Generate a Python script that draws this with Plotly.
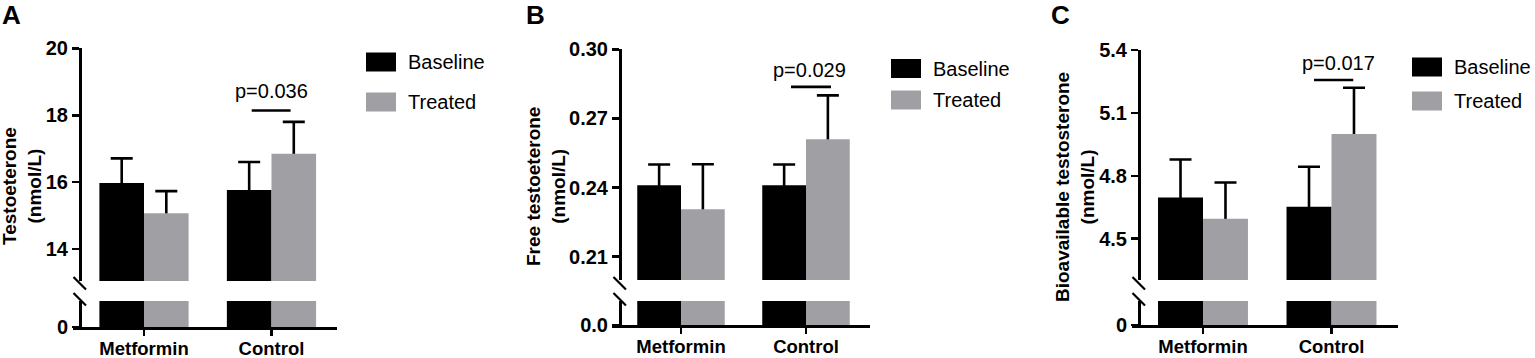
import plotly.graph_objects as go

W, H = 1535, 358

# ---------------- data ----------------
categories = ["Metformin", "Control"]
series_names = ["Baseline", "Treated"]

A_baseline = [15.97, 15.76]
A_baseline_sd = [0.74, 0.84]
A_treated = [15.07, 16.85]
A_treated_sd = [0.66, 0.95]

B_baseline = [0.241, 0.241]
B_baseline_sd = [0.009, 0.009]
B_treated = [0.2306, 0.261]
B_treated_sd = [0.0195, 0.019]

C_baseline = [4.697, 4.652]
C_baseline_sd = [0.181, 0.191]
C_treated = [4.595, 4.999]
C_treated_sd = [0.173, 0.221]

A_ticks = [14, 16, 18, 20]
B_ticks = [0.21, 0.24, 0.27, 0.30]
C_ticks = [4.5, 4.8, 5.1, 5.4]
A_ticktext = ["14", "16", "18", "20"]
B_ticktext = ["0.21", "0.24", "0.27", "0.30"]
C_ticktext = ["4.5", "4.8", "5.1", "5.4"]
zero_labels = ["0", "0.0", "0"]

p_texts = ["p=0.036", "p=0.029", "p=0.017"]
p_line_values = [18.14, 0.2837, 5.257]
p_text_values = [18.71, 0.291, 5.34]

y_titles = ["Testoeterone<br>(nmol/L)",
            "Free testoeterone<br>(nmol/L)",
            "Bioavailable testosterone<br>(nmol/L)"]
panel_letters = ["A", "B", "C"]

# ---------------- styling / layout geometry ----------------
FONT = "Liberation Sans, Arial, Helvetica, sans-serif"
BLACK = "#000000"
GREY = "#a0a0a4"
LW = 2.6


def fx(px):
    return px / W


def fy(px):
    return 1 - px / H


panels = [
    dict(x="x", ylow="y", yup="y2", xdom=(73, 337), xrange=(-0.557, 1.514), axis_x=80,
         up_dom=(48.3, 281), up_range=(13.043, 20.0), low_dom=(301, 327), low_range=(0, 1),
         base=A_baseline, base_sd=A_baseline_sd, trt=A_treated, trt_sd=A_treated_sd,
         ticks=A_ticks, ticktext=A_ticktext, pline=(-0.155, 0.15), ptext_dx=0.0,
         title_x=22, title_y=186, letter_x=0, legend_x=366, legend_y=(62, 102)),
    dict(x="x2", ylow="y3", yup="y4", xdom=(612, 870), xrange=(-0.552, 1.512), axis_x=620,
         up_dom=(49.3, 280), up_range=(0.19989, 0.30), low_dom=(301, 325), low_range=(0, 0.01),
         base=B_baseline, base_sd=B_baseline_sd, trt=B_treated, trt_sd=B_treated_sd,
         ticks=B_ticks, ticktext=B_ticktext, pline=(-0.12, 0.2), ptext_dx=0.027,
         title_x=546, title_y=187, letter_x=524, legend_x=891, legend_y=(68.5, 100)),
    dict(x="x3", ylow="y5", yup="y6", xdom=(1132, 1398), xrange=(-0.5525, 1.5175), axis_x=1139,
         up_dom=(50, 280), up_range=(4.303, 5.4), low_dom=(301, 325), low_range=(0, 1),
         base=C_baseline, base_sd=C_baseline_sd, trt=C_treated, trt_sd=C_treated_sd,
         ticks=C_ticks, ticktext=C_ticktext, pline=(-0.136, 0.169), ptext_dx=0.057,
         title_x=1075, title_y=187, letter_x=1049, legend_x=1412, legend_y=(67, 101)),
]

BAR_W = 0.35
fig = go.Figure()
layout = dict(
    width=W, height=H,
    margin=dict(l=0, r=0, t=0, b=0, autoexpand=False),
    paper_bgcolor="white", plot_bgcolor="rgba(0,0,0,0)",
    barmode="overlay", showlegend=False,
    font=dict(family=FONT, color=BLACK),
)
shapes = []
annotations = []


def axname(a):
    return a.replace("x", "xaxis").replace("y", "yaxis")


for i, p in enumerate(panels):
    # --- upper segment: hidden error-bar carriers first (bars drawn on top hide lower half)
    for vals, sd, off in [(p["base"], p["base_sd"], -BAR_W), (p["trt"], p["trt_sd"], 0.0)]:
        fig.add_trace(go.Bar(
            x=categories, y=vals, width=BAR_W, offset=off,
            marker=dict(color="rgba(0,0,0,0)", line=dict(width=0)),
            error_y=dict(type="data", array=sd, symmetric=True, color=BLACK,
                         thickness=LW, width=11),
            xaxis=p["x"], yaxis=p["yup"], hoverinfo="skip", showlegend=False))
    for yax in (p["yup"], p["ylow"]):
        for name, vals, off, col in [(series_names[0], p["base"], -BAR_W, BLACK),
                                     (series_names[1], p["trt"], 0.0, GREY)]:
            fig.add_trace(go.Bar(
                x=categories, y=vals, width=BAR_W, offset=off, name=name,
                marker=dict(color=col, line=dict(width=0)),
                xaxis=p["x"], yaxis=yax, showlegend=False))

    xa = axname(p["x"])
    yl = axname(p["ylow"])
    yu = axname(p["yup"])
    layout[xa] = dict(
        domain=[fx(p["xdom"][0]), fx(p["xdom"][1])], range=list(p["xrange"]),
        anchor=p["ylow"], type="category",
        showline=True, linewidth=LW, linecolor=BLACK,
        ticks="outside", ticklen=6, tickwidth=LW, tickcolor=BLACK,
        ticklabelstandoff=-3,
        showgrid=False, zeroline=False,
        tickfont=dict(size=18.5, family=FONT, weight="bold", color=BLACK),
        fixedrange=True, automargin=False,
    )
    common_y = dict(
        anchor="free", position=fx(p["axis_x"]),
        showline=True, linewidth=LW, linecolor=BLACK,
        ticks="outside", ticklen=7, tickwidth=LW, tickcolor=BLACK,
        showgrid=False, zeroline=False,
        tickfont=dict(size=20, family=FONT, weight="bold", color=BLACK),
        fixedrange=True, automargin=False,
    )
    layout[yu] = dict(common_y, domain=[fy(p["up_dom"][1]), fy(p["up_dom"][0])],
                      range=list(p["up_range"]), tickvals=p["ticks"], ticktext=p["ticktext"])
    layout[yl] = dict(common_y, domain=[fy(p["low_dom"][1]), fy(p["low_dom"][0])],
                      range=list(p["low_range"]), tickvals=[0], ticktext=[zero_labels[i]])

    # --- axis break marks
    ax = p["axis_x"]
    for (y0, y1) in [(277, 289.5), (293, 305.5)]:
        shapes.append(dict(type="line", xref="paper", yref="paper",
                           x0=fx(ax - 6.5), x1=fx(ax + 6), y0=fy(y0), y1=fy(y1),
                           line=dict(color=BLACK, width=2.2)))

    # --- significance line and p-value
    shapes.append(dict(type="line", xref=p["x"], yref=p["yup"],
                       x0=1 + p["pline"][0], x1=1 + p["pline"][1],
                       y0=p_line_values[i], y1=p_line_values[i],
                       line=dict(color=BLACK, width=LW)))
    annotations.append(dict(xref=p["x"], yref=p["yup"], x=1 + p["ptext_dx"], y=p_text_values[i],
                            text=p_texts[i], showarrow=False, xanchor="center", yanchor="middle",
                            font=dict(size=20, family=FONT, color=BLACK)))

    # --- y-axis title
    annotations.append(dict(xref="paper", yref="paper", x=fx(p["title_x"]), y=fy(p["title_y"]),
                            text=y_titles[i], textangle=-90, showarrow=False,
                            xanchor="center", yanchor="middle",
                            font=dict(size=19, family=FONT, weight="bold", color=BLACK)))

    # --- panel letter
    annotations.append(dict(xref="paper", yref="paper", x=fx(p["letter_x"]), y=fy(15),
                            text=panel_letters[i], showarrow=False,
                            xanchor="left", yanchor="middle",
                            font=dict(size=26, family=FONT, weight="bold", color=BLACK)))

    # --- legend (key boxes + labels)
    lx = p["legend_x"]
    for name, col, cy in [(series_names[0], BLACK, p["legend_y"][0]),
                          (series_names[1], GREY, p["legend_y"][1])]:
        shapes.append(dict(type="rect", xref="paper", yref="paper",
                           x0=fx(lx), x1=fx(lx + 30), y0=fy(cy + 9.5), y1=fy(cy - 9.5),
                           fillcolor=col, line=dict(width=0)))
        annotations.append(dict(xref="paper", yref="paper", x=fx(lx + 40), y=fy(cy),
                                text=name, showarrow=False, xanchor="left", yanchor="middle",
                                font=dict(size=20, family=FONT, color=BLACK)))

layout["shapes"] = shapes
layout["annotations"] = annotations
fig.update_layout(**layout)

fig.write_html(
    "out.html",
    config=dict(displayModeBar=False, staticPlot=True),
    post_script="document.body.style.margin='0';document.body.style.overflow='hidden';",
)
